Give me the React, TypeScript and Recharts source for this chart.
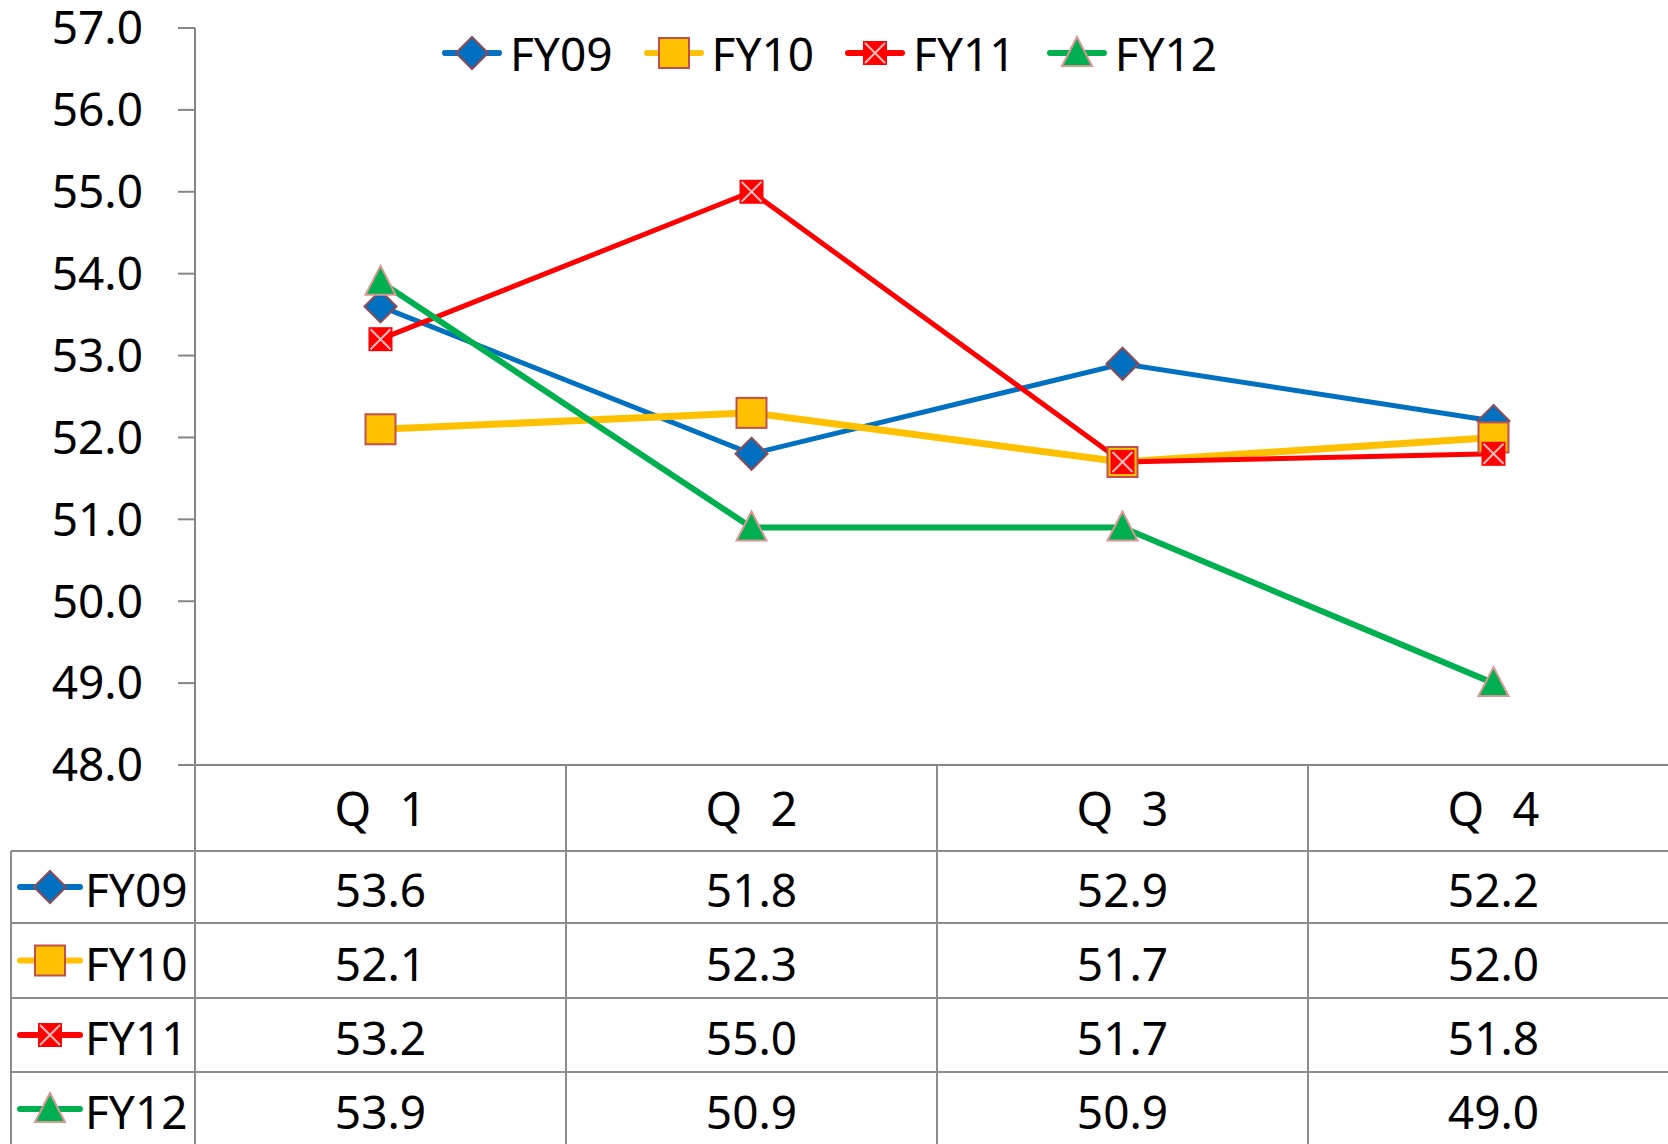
import React from 'react'
import { Legend, Line, LineChart, XAxis, YAxis } from 'recharts'

const quarters = ['Q 1', 'Q 2', 'Q 3', 'Q 4']
const fy09 = [53.6, 51.8, 52.9, 52.2]
const fy10 = [52.1, 52.3, 51.7, 52.0]
const fy11 = [53.2, 55.0, 51.7, 51.8]
const fy12 = [53.9, 50.9, 50.9, 49.0]
const yTicks = [48, 49, 50, 51, 52, 53, 54, 55, 56, 57]

type MarkerKind = 'diamond' | 'square' | 'cross' | 'triangle'

type Series = {
  key: string
  name: string
  color: string
  width: number
  marker: MarkerKind
  values: number[]
}

const series: Series[] = [
  { key: 'fy09', name: 'FY09', color: '#0070C0', width: 5, marker: 'diamond', values: fy09 },
  { key: 'fy10', name: 'FY10', color: '#FFC000', width: 7, marker: 'square', values: fy10 },
  { key: 'fy11', name: 'FY11', color: '#FF0000', width: 5, marker: 'cross', values: fy11 },
  { key: 'fy12', name: 'FY12', color: '#00B050', width: 6, marker: 'triangle', values: fy12 },
]

const data = quarters.map((q, i) => {
  const row: Record<string, string | number> = { quarter: q }
  for (const s of series) row[s.key] = s.values[i]
  return row
})

const FONT = "'Noto Sans', sans-serif"
const GRID = '#8C8C8C'
const AXIS = '#868686'

// table layout below the plot, offsets from the x axis line
const ROW_EDGES = [86, 158, 233, 307, 381]
const TABLE_LEFT = 11

function Marker({ kind, cx, cy }: { kind: MarkerKind; cx: number; cy: number }) {
  if (kind === 'diamond') {
    const r = 16
    return (
      <polygon
        points={`${cx},${cy - r} ${cx + r},${cy} ${cx},${cy + r} ${cx - r},${cy}`}
        fill="#0070C0"
        stroke="#8E4A55"
        strokeWidth={2}
      />
    )
  }
  if (kind === 'square') {
    const r = 15
    return <rect x={cx - r} y={cy - r} width={r * 2} height={r * 2} fill="#FFC000" stroke="#C0504D" strokeWidth={2} />
  }
  if (kind === 'cross') {
    const r = 12
    return (
      <g>
        <rect x={cx - r} y={cy - r} width={r * 2} height={r * 2} fill="#FF0000" />
        <path
          d={`M${cx - r + 2},${cy - r + 2}L${cx + r - 2},${cy + r - 2}M${cx + r - 2},${cy - r + 2}L${cx - r + 2},${cy + r - 2}`}
          stroke="#F4BDBD"
          strokeWidth={2}
        />
      </g>
    )
  }
  return (
    <polygon
      points={`${cx},${cy - 16} ${cx + 15},${cy + 13} ${cx - 15},${cy + 13}`}
      fill="#00B050"
      stroke="#D99694"
      strokeWidth={2}
    />
  )
}

function SeriesIcon({ s, x0, x1, cy }: { s: Series; x0: number; x1: number; cy: number }) {
  return (
    <g>
      <line x1={x0} y1={cy} x2={x1} y2={cy} stroke={s.color} strokeWidth={6} strokeLinecap="round" />
      <Marker kind={s.marker} cx={(x0 + x1) / 2} cy={cy} />
    </g>
  )
}

function TableTick(props: any) {
  const { x, y, payload, index } = props
  const half = payload?.offset || 185
  const left = x - half
  const right = x + half
  const bottom = y + ROW_EDGES[ROW_EDGES.length - 1]
  const textStyle = { fontFamily: FONT, fontSize: 46, fill: '#000' }

  return (
    <g>
      <line x1={left} y1={y} x2={left} y2={bottom} stroke={GRID} strokeWidth={2} />
      {index === quarters.length - 1 && (
        <line x1={right} y1={y} x2={right} y2={bottom} stroke={GRID} strokeWidth={2} />
      )}
      {ROW_EDGES.map((e) => (
        <line key={e} x1={index === 0 ? TABLE_LEFT : left} y1={y + e} x2={right} y2={y + e} stroke={GRID} strokeWidth={2} />
      ))}
      <text
        x={x + 4}
        y={y + ROW_EDGES[0] / 2}
        textAnchor="middle"
        dominantBaseline="central"
        style={{ ...textStyle, fontSize: 47, letterSpacing: 8 }}
      >
        {payload.value}
      </text>
      {series.map((s, i) => (
        <text
          key={s.key}
          x={x}
          y={y + (ROW_EDGES[i] + ROW_EDGES[i + 1]) / 2 + 2}
          textAnchor="middle"
          dominantBaseline="central"
          style={textStyle}
        >
          {s.values[index].toFixed(1)}
        </text>
      ))}
      {index === 0 && (
        <g>
          <line x1={TABLE_LEFT} y1={y + ROW_EDGES[0]} x2={TABLE_LEFT} y2={bottom} stroke={GRID} strokeWidth={2} />
          {series.map((s, i) => {
            const cy = y + (ROW_EDGES[i] + ROW_EDGES[i + 1]) / 2 + 2
            return (
              <g key={s.key}>
                <SeriesIcon s={s} x0={TABLE_LEFT + 9} x1={TABLE_LEFT + 69} cy={cy - 2} />
                <text x={TABLE_LEFT + 74} y={cy} dominantBaseline="central" style={textStyle}>
                  {s.name}
                </text>
              </g>
            )
          })}
        </g>
      )}
    </g>
  )
}

function LegendContent() {
  return (
    <div style={{ display: 'flex', alignItems: 'center', fontFamily: FONT, fontSize: 46, lineHeight: '54px' }}>
      {series.map((s) => (
        <div key={s.key} style={{ display: 'flex', alignItems: 'center', marginRight: 31 }}>
          <svg width={68} height={54}>
            <SeriesIcon s={s} x0={3} x1={57} cy={27} />
          </svg>
          <span style={{ color: '#000' }}>{s.name}</span>
        </div>
      ))}
    </div>
  )
}

export default function App() {
  return (
    <div
      style={{
        position: 'absolute',
        left: 0,
        top: 0,
        width: 1668,
        height: 1144,
        overflow: 'hidden',
        background: '#fff',
      }}
    >
      <div
        style={{
          position: 'absolute',
          left: 1581,
          top: -49,
          fontFamily: FONT,
          fontSize: 46,
          lineHeight: '46px',
          color: '#000',
        }}
      >
        (%)
      </div>
      <LineChart width={1700} height={1160} data={data} margin={{ top: 28, right: 21, left: 0, bottom: 0 }}>
        <XAxis
          dataKey="quarter"
          type="category"
          scale="band"
          height={395}
          interval={0}
          tickSize={0}
          tickMargin={0}
          tickLine={false}
          axisLine={{ stroke: AXIS, strokeWidth: 2 }}
          tick={(p: any) => <TableTick {...p} />}
        />
        <YAxis
          type="number"
          domain={[48, 57]}
          ticks={yTicks}
          interval={0}
          allowDataOverflow
          width={195}
          tickSize={17}
          tickMargin={35}
          tickFormatter={(v: number) => v.toFixed(1)}
          axisLine={{ stroke: AXIS, strokeWidth: 2 }}
          tickLine={{ stroke: AXIS, strokeWidth: 2 }}
          tick={{ fill: '#000', fontSize: 46, fontFamily: FONT }}
        />
        <Legend
          layout="horizontal"
          verticalAlign="middle"
          align="center"
          content={() => <LegendContent />}
          wrapperStyle={{ top: 26, left: 442, width: 'auto' }}
        />
        {series.map((s) => (
          <Line
            key={s.key}
            type="linear"
            dataKey={s.key}
            name={s.name}
            stroke={s.color}
            strokeWidth={s.width}
            activeDot={false}
            isAnimationActive={false}
            dot={(p: any) => <Marker key={`${s.key}-${p.index}`} kind={s.marker} cx={p.cx} cy={p.cy} />}
          />
        ))}
      </LineChart>
    </div>
  )
}
